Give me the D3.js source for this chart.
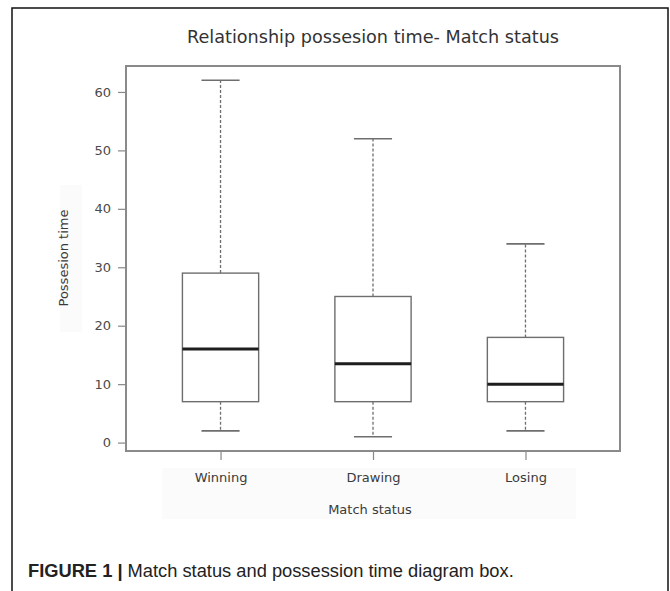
<!DOCTYPE html>
<html>
<head>
<meta charset="utf-8">
<script src="https://cdn.jsdelivr.net/npm/d3@7"></script>
<style>
  html, body { margin: 0; padding: 0; background: #fff; }
  svg { display: block; }
</style>
</head>
<body>
<svg id="chart" width="670" height="591"></svg>
<script>
// Box-plot summaries of possession time by match status
const categories = ["Winning", "Drawing", "Losing"];
const whiskerLow = [2, 1, 2];
const q1 = [7, 7, 7];
const median = [16, 13.5, 10];
const q3 = [29, 25, 18];
const whiskerHigh = [62, 52, 34];
const yTicks = [0, 10, 20, 30, 40, 50, 60];

const svg = d3.select("#chart");
const plot = { left: 126, right: 620, top: 66, bottom: 451 };
const labelFont = "'DejaVu Sans', Verdana, sans-serif";
const ink = "#3a3a3a";

// outer figure frame (open at the bottom)
svg.append("path")
  .attr("d", "M12,600 V8 H668 V600")
  .attr("fill", "none").attr("stroke", "#111").attr("stroke-width", 1.5);

// y axis spans the data range padded by 4% on each side
const yMin = d3.min(whiskerLow), yMax = d3.max(whiskerHigh);
const yPad = (yMax - yMin) * 0.04;
const y = d3.scaleLinear().domain([yMin - yPad, yMax + yPad]).range([plot.bottom, plot.top]);

// groups sit at 1..n, with the same 4% padding around 0.5..n+0.5
const n = categories.length;
const xPad = n * 0.04;
const x = d3.scaleLinear().domain([0.5 - xPad, n + 0.5 + xPad]).range([plot.left, plot.right]);
const boxHalf = 0.25, capHalf = 0.125;

// faint label backgrounds
svg.append("rect").attr("x", 60).attr("y", 185).attr("width", 22).attr("height", 147).attr("fill", "#fbfbfb");
svg.append("rect").attr("x", 162).attr("y", 468).attr("width", 414).attr("height", 51).attr("fill", "#fbfbfb");

// title
svg.append("text")
  .attr("x", (plot.left + plot.right) / 2).attr("y", 43)
  .attr("text-anchor", "middle")
  .attr("font-family", labelFont).attr("font-size", 18.5).attr("fill", "#333")
  .attr("textLength", 372).attr("lengthAdjust", "spacingAndGlyphs")
  .text("Relationship possesion time- Match status");

// y axis
const yAxis = svg.append("g")
  .attr("transform", `translate(${plot.left},0)`)
  .call(d3.axisLeft(y).tickValues(yTicks).tickSize(8).tickPadding(7).tickFormat(d3.format("d")));
yAxis.select(".domain").remove();
yAxis.selectAll(".tick line").attr("stroke", "#888").attr("stroke-width", 1.2);
yAxis.selectAll(".tick text").attr("font-family", labelFont).attr("font-size", 13).attr("fill", "#4a4a4a");

// x axis
const xAxis = svg.append("g")
  .attr("transform", `translate(0,${plot.bottom})`)
  .call(d3.axisBottom(x).tickValues(d3.range(1, n + 1)).tickSize(9).tickPadding(13)
    .tickFormat(i => categories[i - 1]));
xAxis.select(".domain").remove();
xAxis.selectAll(".tick line").attr("stroke", "#888").attr("stroke-width", 1.2);
xAxis.selectAll(".tick text").attr("font-family", labelFont).attr("font-size", 13).attr("fill", ink);

// axis titles
svg.append("text")
  .attr("transform", "translate(68,258) rotate(-90)")
  .attr("text-anchor", "middle")
  .attr("font-family", labelFont).attr("font-size", 13).attr("fill", ink)
  .text("Possesion time");
svg.append("text")
  .attr("x", 370).attr("y", 514)
  .attr("text-anchor", "middle")
  .attr("font-family", labelFont).attr("font-size", 13).attr("fill", ink)
  .text("Match status");

// boxes
const groups = svg.append("g").selectAll("g")
  .data(categories.map((c, i) => ({
    pos: i + 1, lo: whiskerLow[i], q1: q1[i], med: median[i], q3: q3[i], hi: whiskerHigh[i]
  })))
  .join("g");

const grey = "#6e6e6e";
// dashed whiskers
groups.append("line")
  .attr("x1", d => x(d.pos)).attr("x2", d => x(d.pos))
  .attr("y1", d => y(d.q3)).attr("y2", d => y(d.hi))
  .attr("stroke", grey).attr("stroke-width", 1.3).attr("stroke-dasharray", "3,2");
groups.append("line")
  .attr("x1", d => x(d.pos)).attr("x2", d => x(d.pos))
  .attr("y1", d => y(d.q1)).attr("y2", d => y(d.lo))
  .attr("stroke", grey).attr("stroke-width", 1.3).attr("stroke-dasharray", "3,2");
// staples
groups.selectAll("line.cap")
  .data(d => [{ pos: d.pos, v: d.lo }, { pos: d.pos, v: d.hi }])
  .join("line").attr("class", "cap")
  .attr("x1", d => x(d.pos - capHalf)).attr("x2", d => x(d.pos + capHalf))
  .attr("y1", d => y(d.v)).attr("y2", d => y(d.v))
  .attr("stroke", grey).attr("stroke-width", 1.6);
// box
groups.append("rect")
  .attr("x", d => x(d.pos - boxHalf)).attr("width", d => x(d.pos + boxHalf) - x(d.pos - boxHalf))
  .attr("y", d => y(d.q3)).attr("height", d => y(d.q1) - y(d.q3))
  .attr("fill", "none").attr("stroke", grey).attr("stroke-width", 1.4);
// median
groups.append("line")
  .attr("x1", d => x(d.pos - boxHalf)).attr("x2", d => x(d.pos + boxHalf))
  .attr("y1", d => y(d.med)).attr("y2", d => y(d.med))
  .attr("stroke", "#1e1e1e").attr("stroke-width", 3);

// plot frame
svg.append("rect")
  .attr("x", plot.left).attr("y", plot.top)
  .attr("width", plot.right - plot.left).attr("height", plot.bottom - plot.top)
  .attr("fill", "none").attr("stroke", "#8a8a8a").attr("stroke-width", 2);

// caption
const cap = svg.append("text")
  .attr("x", 28).attr("y", 577)
  .attr("font-family", "'Liberation Sans', Arial, sans-serif").attr("font-size", 18.3).attr("fill", "#222");
cap.append("tspan").attr("font-weight", "bold").text("FIGURE 1 | ");
cap.append("tspan").text("Match status and possession time diagram box.");
</script>
</body>
</html>
